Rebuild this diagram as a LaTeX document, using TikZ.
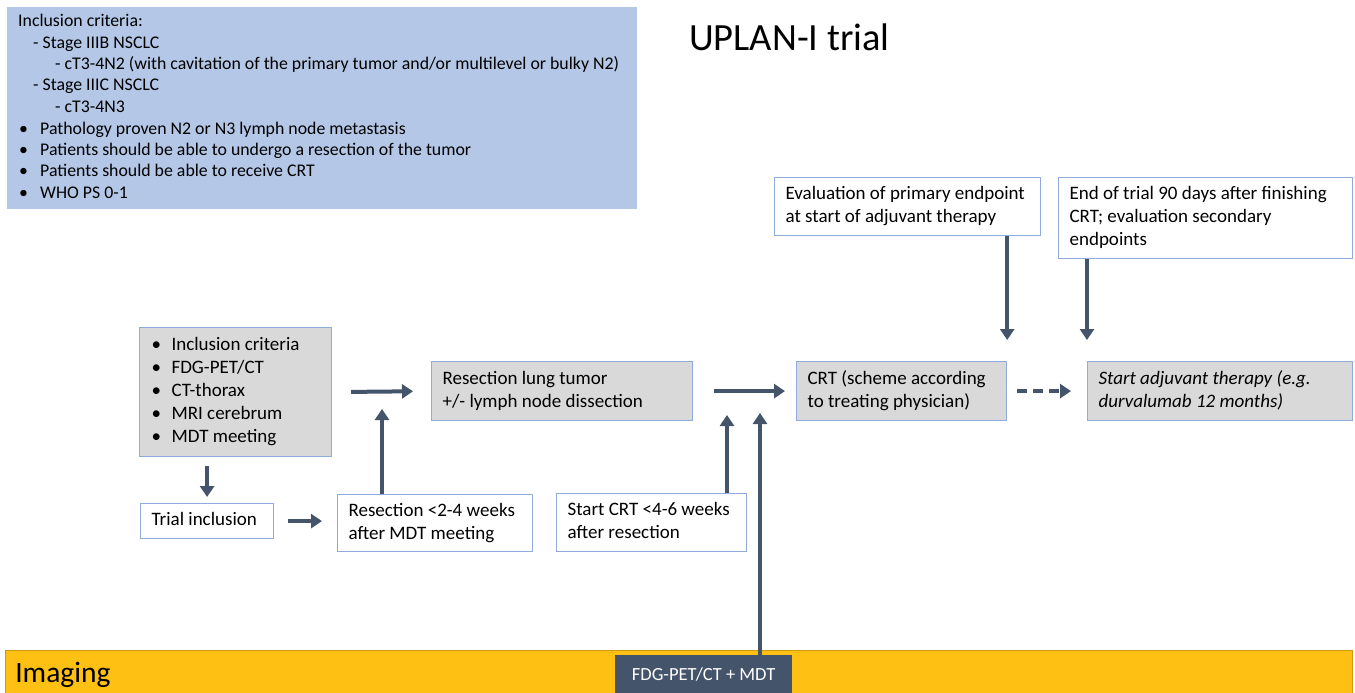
\documentclass[tikz,border=0pt]{standalone}
\usepackage{fontspec}
\setmainfont{Carlito}
\usetikzlibrary{arrows.meta,calc}
\definecolor{arrc}{HTML}{44546A}
\definecolor{bluebg}{HTML}{B4C7E7}
\definecolor{bord}{HTML}{8FAADC}
\definecolor{grayf}{HTML}{D9D9D9}
\definecolor{gold}{HTML}{FEC012}
\newcommand{\lbox}[2]{\makebox[#1][l]{\begin{tabular}{@{}l@{}}#2\end{tabular}}}
\newcommand{\bul}{\makebox[21pt][l]{\hspace*{1pt}\textbullet}}
\begin{document}
\begin{tikzpicture}[x=1pt,y=-1pt,
  box/.style={draw=bord, line width=1.2pt, anchor=north west, inner xsep=11pt, inner ysep=0pt, font=\fontsize{19}{23}\selectfont},
  gbox/.style={box, fill=grayf},
  wbox/.style={box, fill=white},
  arr/.style={draw=arrc, line width=4pt, -{Triangle[width=14pt,length=11pt]}},
  darr/.style={arr, dash pattern=on 10pt off 6pt}
]
\useasboundingbox (0,0) rectangle (1355,693);
\fill[white] (0,0) rectangle (1355,693);

% inclusion criteria box
\node[anchor=north west, fill=bluebg, minimum width=630pt, minimum height=202pt,
      inner xsep=11pt, inner ysep=0pt,
      font=\fontsize{17.8}{21.5}\selectfont] (crit) at (7,7)
{\lbox{608pt}{Inclusion criteria:\\
\hspace*{15pt}- Stage IIIB NSCLC\\
\hspace*{37pt}- cT3-4N2 (with cavitation of the primary tumor and/or multilevel or bulky N2)\\
\hspace*{15pt}- Stage IIIC NSCLC\\
\hspace*{37pt}- cT3-4N3\\
\makebox[22pt][l]{\hspace*{1pt}\textbullet}Pathology proven N2 or N3 lymph node metastasis\\
\makebox[22pt][l]{\hspace*{1pt}\textbullet}Patients should be able to undergo a resection of the tumor\\
\makebox[22pt][l]{\hspace*{1pt}\textbullet}Patients should be able to receive CRT\\
\makebox[22pt][l]{\hspace*{1pt}\textbullet}WHO PS 0-1}};

% title
\node[anchor=west, inner sep=0pt, font=\fontsize{38.5}{42}\selectfont] (title) at (689,37) {UPLAN-I trial};

% flow boxes
\node[gbox, minimum width=192pt, minimum height=129pt] (pre) at (139,327)
{\lbox{170pt}{\bul Inclusion criteria\\
\bul FDG-PET/CT\\
\bul CT-thorax\\
\bul MRI cerebrum\\
\bul MDT meeting}};

\node[gbox, minimum width=261pt, minimum height=59pt] (res) at (431,361)
{\lbox{239pt}{Resection lung tumor\\+/- lymph node dissection}};

\node[wbox, minimum width=133pt, minimum height=35pt] (trial) at (140,503)
{\lbox{111pt}{Trial inclusion}};

\node[wbox, minimum width=195pt, minimum height=57pt] (rwk) at (337,494)
{\lbox{173pt}{Resection <2-4 weeks\\after MDT meeting}};

\node[wbox, minimum width=190pt, minimum height=58pt] (cwk) at (556,493)
{\lbox{168pt}{Start CRT <4-6 weeks\\after resection}};

\node[gbox, minimum width=210pt, minimum height=59pt] (crt) at (796,361)
{\lbox{188pt}{CRT (scheme according\\to treating physician)}};

\node[gbox, minimum width=265pt, minimum height=59pt, font=\fontsize{19}{23}\selectfont\itshape] (adj) at (1087,361)
{\lbox{243pt}{Start adjuvant therapy (e.g.\\durvalumab 12 months)}};

\node[wbox, minimum width=266pt, minimum height=58pt] (eval) at (774,177)
{\lbox{244pt}{Evaluation of primary endpoint\\at start of adjuvant therapy}};

\node[wbox, minimum width=294pt, minimum height=81pt] (eot) at (1058,177)
{\lbox{272pt}{End of trial 90 days after finishing\\CRT; evaluation secondary\\endpoints}};

% imaging band
\node[anchor=north west, fill=gold, draw=gold!80!black, line width=0.6pt, minimum width=1347pt, minimum height=43pt,
      inner xsep=10pt, inner ysep=0pt, font=\fontsize{29.5}{32}\selectfont] (img) at (5,650) {\lbox{1327pt}{\raisebox{-4pt}{Imaging}}};
\node[anchor=north west, fill=arrc, text=white, minimum width=177pt, minimum height=38pt, inner sep=0pt,
      font=\fontsize{18.5}{20}\selectfont] (fdg) at (615,655) {FDG-PET/CT + MDT};

% junction coordinates
\coordinate (j1) at (382,409);
\coordinate (j2) at (727,415);
\coordinate (j3) at (760,413);
\coordinate (fdgtop) at (760,655);

% connectors
\draw[arr, shorten <=19pt, shorten >=18pt] (pre.east) -- (res.west);
\draw[arr, shorten <=9pt, shorten >=6pt] (pre.south -| trial.north) -- (trial.north);
\draw[arr, shorten <=14pt, shorten >=15pt] (trial.east) -- (trial.east -| rwk.west);
\draw[arr] (rwk.north -| j1) -- (j1);
\draw[arr, shorten <=21pt, shorten >=11pt] (res.east) -- (crt.west);
\draw[arr] (cwk.north -| j2) -- (j2);
\draw[arr] (fdgtop) -- (j3);
\draw[darr, shorten <=10pt, shorten >=16pt] (crt.east) -- (adj.west);
\draw[arr, shorten >=21pt] (eval.south -| crt.north east) -- (crt.north east);
\draw[arr, shorten >=21pt] (eot.south -| adj.north west) -- (adj.north west);
\end{tikzpicture}
\end{document}
